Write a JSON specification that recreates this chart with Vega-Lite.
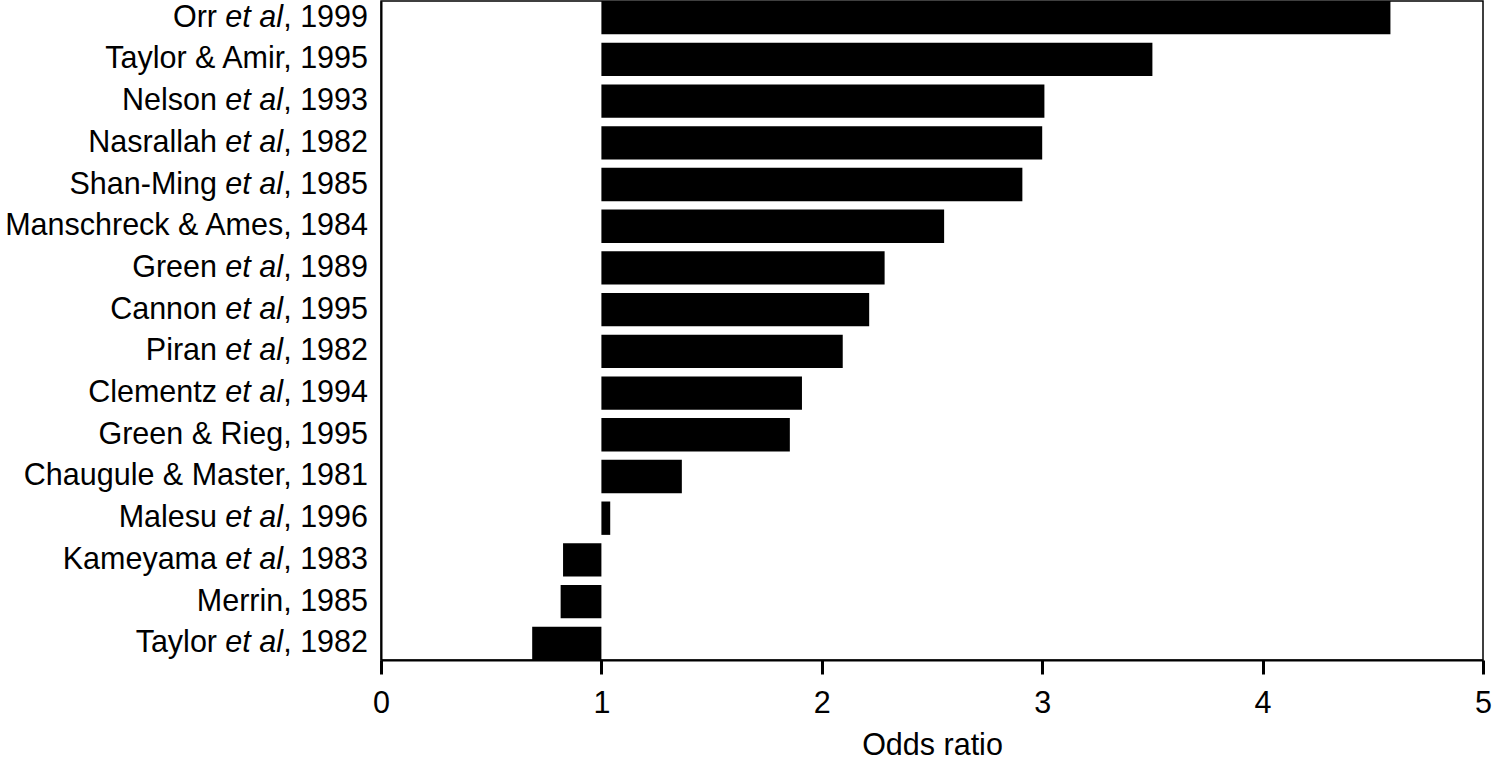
{
  "$schema": "https://vega.github.io/schema/vega-lite/v6.json",
  "autosize": {"type": "none"},
  "padding": {"left": 381, "top": 1, "right": 11, "bottom": 100},
  "width": 1102,
  "height": 659,
  "background": "white",
  "config": {
    "view": {"stroke": "black", "strokeWidth": 1.5},
    "font": "Liberation Sans",
    "text": {"font": "Liberation Sans", "fontSize": 30.5, "color": "black"}
  },
  "data": {
    "values": [
      {"study": "Orr et al, 1999", "pre": "Orr", "ital": "et al", "post": ", 1999", "value": 4.58},
      {"study": "Taylor & Amir, 1995", "pre": "", "ital": "", "post": "Taylor & Amir, 1995", "value": 3.5},
      {"study": "Nelson et al, 1993", "pre": "Nelson", "ital": "et al", "post": ", 1993", "value": 3.01},
      {"study": "Nasrallah et al, 1982", "pre": "Nasrallah", "ital": "et al", "post": ", 1982", "value": 3.0},
      {"study": "Shan-Ming et al, 1985", "pre": "Shan-Ming", "ital": "et al", "post": ", 1985", "value": 2.91},
      {"study": "Manschreck & Ames, 1984", "pre": "", "ital": "", "post": "Manschreck & Ames, 1984", "value": 2.555},
      {"study": "Green et al, 1989", "pre": "Green", "ital": "et al", "post": ", 1989", "value": 2.285},
      {"study": "Cannon et al, 1995", "pre": "Cannon", "ital": "et al", "post": ", 1995", "value": 2.215},
      {"study": "Piran et al, 1982", "pre": "Piran", "ital": "et al", "post": ", 1982", "value": 2.095},
      {"study": "Clementz et al, 1994", "pre": "Clementz", "ital": "et al", "post": ", 1994", "value": 1.91},
      {"study": "Green & Rieg, 1995", "pre": "", "ital": "", "post": "Green & Rieg, 1995", "value": 1.855},
      {"study": "Chaugule & Master, 1981", "pre": "", "ital": "", "post": "Chaugule & Master, 1981", "value": 1.365},
      {"study": "Malesu et al, 1996", "pre": "Malesu", "ital": "et al", "post": ", 1996", "value": 1.04},
      {"study": "Kameyama et al, 1983", "pre": "Kameyama", "ital": "et al", "post": ", 1983", "value": 0.826},
      {"study": "Merrin, 1985", "pre": "", "ital": "", "post": "Merrin, 1985", "value": 0.815},
      {"study": "Taylor et al, 1982", "pre": "Taylor", "ital": "et al", "post": ", 1982", "value": 0.686}
    ]
  },
  "encoding": {
    "y": {
      "field": "study",
      "type": "nominal",
      "sort": null,
      "scale": {"paddingInner": 0.2, "paddingOuter": 0},
      "axis": {
        "title": null,
        "labels": false,
        "ticks": false,
        "grid": false,
        "domainColor": "black",
        "domainWidth": 2
      }
    }
  },
  "layer": [
    {
      "mark": {"type": "bar", "color": "black"},
      "encoding": {
        "x": {
          "field": "value",
          "type": "quantitative",
          "scale": {"domain": [0, 5], "nice": false},
          "axis": {
            "title": "Odds ratio",
            "values": [0, 1, 2, 3, 4, 5],
            "format": "d",
            "grid": false,
            "domainColor": "black",
            "domainWidth": 2,
            "tickColor": "black",
            "tickSize": 14,
            "tickWidth": 3,
            "labelFont": "Liberation Sans",
            "labelFontSize": 30.5,
            "labelColor": "black",
            "labelPadding": 14,
            "labelFlush": false,
            "titleFont": "Liberation Sans",
            "titleFontSize": 30.5,
            "titleFontWeight": "normal",
            "titleColor": "black",
            "titlePadding": 12
          }
        },
        "x2": {"datum": 1}
      }
    },
    {
      "mark": {"type": "text", "align": "right", "baseline": "middle", "dx": -13},
      "encoding": {
        "x": {"datum": 0, "type": "quantitative"},
        "text": {"field": "post"}
      }
    },
    {
      "mark": {"type": "text", "align": "right", "baseline": "middle", "dx": -98, "fontStyle": "italic"},
      "encoding": {
        "x": {"datum": 0, "type": "quantitative"},
        "text": {"field": "ital"}
      }
    },
    {
      "mark": {"type": "text", "align": "right", "baseline": "middle", "dx": -164},
      "encoding": {
        "x": {"datum": 0, "type": "quantitative"},
        "text": {"field": "pre"}
      }
    }
  ]
}
